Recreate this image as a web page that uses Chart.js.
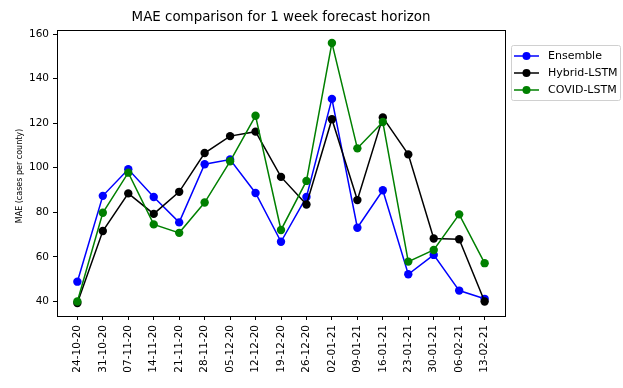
<!DOCTYPE html>
<html>
<head>
<meta charset="utf-8">
<script src="https://cdn.jsdelivr.net/npm/chart.js@4"></script>
<style>
html, body { margin: 0; padding: 0; background: #fff; }
</style>
</head>
<body>
<canvas id="maeChart" width="623" height="388"></canvas>
<script>

// DATA

const weeks = ['24-10-20', '31-10-20', '07-11-20', '14-11-20', '21-11-20', '28-11-20',
    '05-12-20', '12-12-20', '19-12-20', '26-12-20', '02-01-21', '09-01-21', '16-01-21',
    '23-01-21', '30-01-21', '06-02-21', '13-02-21'];

const ensemble = [48.9, 87.4, 99.3, 86.9, 75.5, 101.6, 103.7, 88.7, 66.8, 86.9,
    130.9, 73.1, 89.9, 52.2, 60.9, 44.9, 41.2];

const hybridLstm = [39.3, 71.6, 88.5, 79.3, 89.2, 106.6, 114.2, 116.2, 95.9, 83.5,
    121.8, 85.5, 122.6, 106.0, 68.3, 67.9, 40.0];

const covidLstm = [40.0, 79.8, 97.8, 74.6, 70.8, 84.4, 102.9, 123.3, 72.1, 94.1,
    156.0, 108.7, 120.5, 57.9, 63.1, 79.1, 57.2];

const yTicks = [40, 60, 80, 100, 120, 140, 160];

const FONT = "'DejaVu Sans', sans-serif";

function points(values) {
    return values.map((v, i) => ({ x: i, y: v }));
}

function series(label, values, color, order) {
    return {
        label: label,
        data: points(values),
        borderColor: color,
        backgroundColor: color,
        borderWidth: 1.5,
        pointRadius: 4.2,
        pointBorderWidth: 0,
        order: order
    };
}

// FRAME, TITLES AND LEGEND

const decorations = {
    id: 'decorations',
    afterDraw(chart) {
        const c = chart.ctx;
        const a = chart.chartArea;

        c.save();
        c.strokeStyle = '#000';
        c.lineWidth = 1;
        c.strokeRect(Math.round(a.left) + 0.5, Math.round(a.top) + 0.5,
            Math.round(a.right - a.left), Math.round(a.bottom - a.top));

        c.fillStyle = '#000';
        c.textAlign = 'center';
        c.textBaseline = 'middle';
        c.font = '13.4px ' + FONT;
        c.fillText('MAE comparison for 1 week forecast horizon', (a.left + a.right) / 2, 18);

        c.save();
        c.translate(20, 176);
        c.rotate(-Math.PI / 2);
        c.font = '8px ' + FONT;
        c.fillText('MAE (cases per county)', 0, 0);
        c.restore();

        // legend box
        c.beginPath();
        c.roundRect(511.5, 45.5, 109, 55, 2);
        c.fillStyle = 'rgba(255,255,255,0.8)';
        c.fill();
        c.strokeStyle = '#d0d0d0';
        c.stroke();

        c.font = '11px ' + FONT;
        c.textAlign = 'left';
        chart.data.datasets.forEach((ds, i) => {
            const y = 56 + i * 17;
            c.strokeStyle = ds.borderColor;
            c.lineWidth = 1.5;
            c.beginPath();
            c.moveTo(514, y);
            c.lineTo(539, y);
            c.stroke();
            c.fillStyle = ds.borderColor;
            c.beginPath();
            c.arc(526.5, y, 4, 0, Math.PI * 2);
            c.fill();
            c.fillStyle = '#000';
            c.fillText(ds.label, 548, y);
        });
        c.restore();
    }
};

// LINE CHART

const ctx = document.getElementById('maeChart');

new Chart(ctx, {

    type: 'line',

    data: {
        datasets: [
            series('Ensemble', ensemble, '#0000ff', 3),
            series('Hybrid-LSTM', hybridLstm, '#000000', 2),
            series('COVID-LSTM', covidLstm, '#008000', 1)
        ]
    },

    options: {

        responsive: false,
        animation: false,

        layout: {
            padding: { top: 30, right: 118, left: 0, bottom: 0 }
        },

        plugins: {
            legend: { display: false },
            tooltip: { enabled: false }
        },

        scales: {

            x: {
                type: 'linear',
                min: -0.8,
                max: 16.8,
                afterBuildTicks: (scale) => {
                    scale.ticks = weeks.map((w, i) => ({ value: i }));
                },
                afterFit: (scale) => {
                    scale.height = 72;
                },
                grid: {
                    drawOnChartArea: false,
                    drawTicks: true,
                    tickLength: 4,
                    color: '#000'
                },
                border: { display: false },
                ticks: {
                    autoSkip: false,
                    minRotation: 90,
                    maxRotation: 90,
                    padding: 5,
                    color: '#000',
                    font: { family: FONT, size: 10.5 },
                    callback: (v) => weeks[v]
                }
            },

            y: {
                min: 33.5,
                max: 161.8,
                afterBuildTicks: (scale) => {
                    scale.ticks = yTicks.map((v) => ({ value: v }));
                },
                afterFit: (scale) => {
                    scale.width = 57;
                },
                grid: {
                    drawOnChartArea: false,
                    drawTicks: true,
                    tickLength: 4,
                    color: '#000'
                },
                border: { display: false },
                ticks: {
                    padding: 4,
                    color: '#000',
                    font: { family: FONT, size: 10.5 }
                }
            }

        }

    },

    plugins: [decorations]

});

</script>
</body>
</html>
